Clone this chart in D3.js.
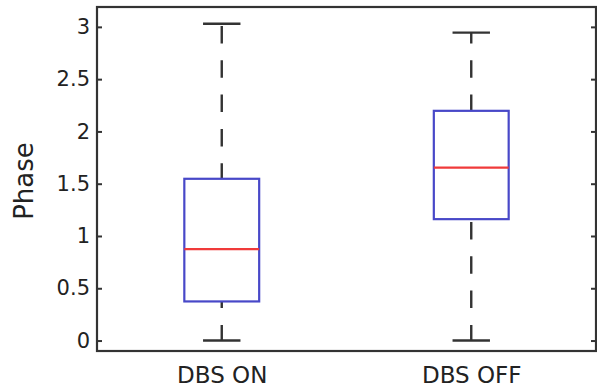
<!DOCTYPE html>
<html>
<head>
<meta charset="utf-8">
<script src="https://cdn.jsdelivr.net/npm/d3@7/dist/d3.min.js"></script>
<style>
  body { margin: 0; background: #fff; }
  svg { display: block; }
  text { font-family: "DejaVu Sans", sans-serif; fill: #222; }
</style>
</head>
<body>
<svg id="chart"></svg>
<script>
// values
var groups = ["DBS ON", "DBS OFF"];
var whiskerLow = [0, 0];
var q1 = [0.374, 1.161];
var median = [0.874, 1.654];
var q3 = [1.547, 2.197];
var whiskerHigh = [3.03, 2.945];
var yTicks = [0, 0.5, 1, 1.5, 2, 2.5, 3];

var margin = {top: 7, right: 1, bottom: 41, left: 97},
    width = 597 - margin.left - margin.right,
    height = 392 - margin.top - margin.bottom;

var svg = d3.select("#chart")
    .attr("width", width + margin.left + margin.right)
    .attr("height", height + margin.top + margin.bottom)
    .append("g")
    .attr("transform", "translate(" + margin.left + "," + margin.top + ")");

var x = d3.scaleLinear().domain([0.5, 2.5]).range([0, width]);
var y = d3.scaleLinear().domain([-0.1, 3.19]).range([height, 0]);

var boxW = 0.3, capW = 0.15;
var dash = 17.5, gap = 16.8, period = dash + gap;
// dash pattern is anchored to fixed rows, like the original
var anchorUp = 19, anchorLow = 215;
function offset(start, anchor) {
    return ((start - anchor) % period + period) % period;
}

var data = groups.map(function(g, i) {
    return {name: g, pos: i + 1, lo: whiskerLow[i], q1: q1[i], med: median[i], q3: q3[i], hi: whiskerHigh[i]};
});

var box = svg.selectAll(".box")
    .data(data)
    .enter().append("g")
    .attr("class", "box");

// upper whisker
box.append("line")
    .attr("x1", function(d) { return x(d.pos); })
    .attr("x2", function(d) { return x(d.pos); })
    .attr("y1", function(d) { return y(d.hi); })
    .attr("y2", function(d) { return y(d.q3); })
    .attr("stroke", "#333")
    .attr("stroke-width", 2.4)
    .attr("stroke-dasharray", dash + "," + gap)
    .attr("stroke-dashoffset", function(d) { return offset(y(d.hi), anchorUp); });

// lower whisker
box.append("line")
    .attr("x1", function(d) { return x(d.pos); })
    .attr("x2", function(d) { return x(d.pos); })
    .attr("y1", function(d) { return y(d.q1); })
    .attr("y2", function(d) { return y(d.lo); })
    .attr("stroke", "#333")
    .attr("stroke-width", 2.4)
    .attr("stroke-dasharray", dash + "," + gap)
    .attr("stroke-dashoffset", function(d) { return offset(y(d.q1), anchorLow); });

// caps
["hi", "lo"].forEach(function(k) {
    box.append("line")
        .attr("x1", function(d) { return x(d.pos - capW / 2); })
        .attr("x2", function(d) { return x(d.pos + capW / 2); })
        .attr("y1", function(d) { return y(d[k]); })
        .attr("y2", function(d) { return y(d[k]); })
        .attr("stroke", "#333")
        .attr("stroke-width", 2.4);
});

box.append("rect")
    .attr("x", function(d) { return x(d.pos - boxW / 2); })
    .attr("width", function(d) { return x(d.pos + boxW / 2) - x(d.pos - boxW / 2); })
    .attr("y", function(d) { return y(d.q3); })
    .attr("height", function(d) { return y(d.q1) - y(d.q3); })
    .attr("fill", "none")
    .attr("stroke", "#4848c8")
    .attr("stroke-width", 2.2);

box.append("line")
    .attr("x1", function(d) { return x(d.pos - boxW / 2); })
    .attr("x2", function(d) { return x(d.pos + boxW / 2); })
    .attr("y1", function(d) { return y(d.med); })
    .attr("y2", function(d) { return y(d.med); })
    .attr("stroke", "#f03a3a")
    .attr("stroke-width", 2.2);

// axes
var yAxis = svg.append("g")
    .call(d3.axisLeft(y).tickValues(yTicks).tickFormat(function(d) { return String(d); })
        .tickSizeInner(-5).tickSizeOuter(0).tickPadding(7));
yAxis.select(".domain").remove();
yAxis.selectAll("line").attr("stroke", "#333").attr("stroke-width", 2);
yAxis.selectAll("text").style("font-size", "21px").attr("fill", "#222");

var yAxisR = svg.append("g")
    .attr("transform", "translate(" + width + ",0)")
    .call(d3.axisRight(y).tickValues(yTicks).tickFormat("").tickSizeInner(-5).tickSizeOuter(0));
yAxisR.select(".domain").remove();
yAxisR.selectAll("line").attr("stroke", "#333").attr("stroke-width", 2);

var xAxis = svg.append("g")
    .attr("transform", "translate(0," + height + ")")
    .call(d3.axisBottom(x).tickValues(data.map(function(d) { return d.pos; }))
        .tickFormat(function(v) { return groups[v - 1]; })
        .tickSize(0).tickPadding(16));
xAxis.select(".domain").remove();
xAxis.selectAll("text").style("font-size", "23px").attr("fill", "#222");

// frame
svg.append("rect")
    .attr("width", width)
    .attr("height", height)
    .attr("fill", "none")
    .attr("stroke", "#333")
    .attr("stroke-width", 2.2);

svg.append("text")
    .attr("transform", "translate(" + (33 - margin.left) + "," + (181 - margin.top) + ") rotate(-90)")
    .attr("text-anchor", "middle")
    .style("font-size", "26px")
    .text("Phase");
</script>
</body>
</html>
